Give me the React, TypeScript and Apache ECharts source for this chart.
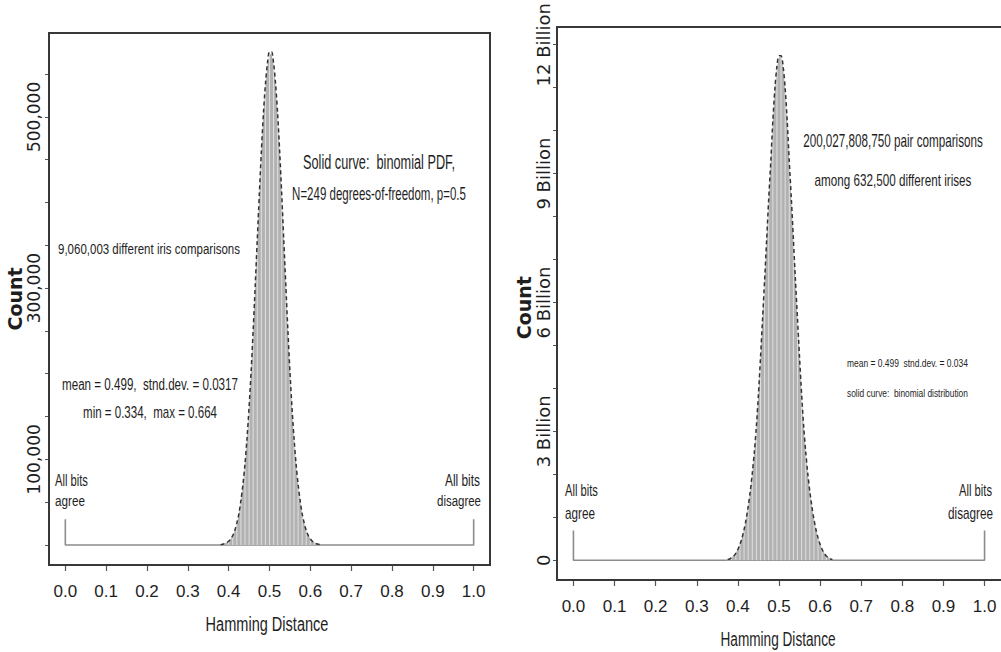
import React, { useEffect, useRef } from "react";
import * as echarts from "echarts";

// ---------- data ----------
const xTickValues = [0, 0.1, 0.2, 0.3, 0.4, 0.5, 0.6, 0.7, 0.8, 0.9, 1.0];

// left panel: 9,060,003 comparisons (counts)
const leftBins = [
  0.38, 0.385, 0.39, 0.395, 0.4, 0.405, 0.41, 0.415, 0.42, 0.425, 0.43, 0.435, 0.44, 0.445, 0.45, 0.455,
  0.46, 0.465, 0.47, 0.475, 0.48, 0.485, 0.49, 0.495, 0.5, 0.505, 0.51, 0.515, 0.52, 0.525, 0.53, 0.535,
  0.54, 0.545, 0.55, 0.555, 0.56, 0.565, 0.57, 0.575, 0.58, 0.585, 0.59, 0.595, 0.6, 0.605, 0.61, 0.615,
  0.62, 0.625,
];
const leftCounts = [
  500, 900, 1600, 2800, 4500, 7000, 11000, 17000, 25000, 36000, 51000, 70000, 94000, 124000, 160000, 202000,
  250000, 302000, 355000, 408000, 458000, 502000, 536000, 560000, 573000, 574000, 561000, 536000, 502000, 458000, 408000, 355000,
  302000, 250000, 202000, 160000, 124000, 94000, 70000, 51000, 36000, 25000, 17000, 11000, 7000, 4500, 2800, 1600,
  900, 500,
];
const leftPdf = [
  400, 800, 1500, 2700, 4400, 7000, 11000, 17000, 25500, 36500, 52000, 71000, 95000, 125000, 161000, 203000,
  251000, 303000, 356000, 409000, 459000, 503000, 538000, 563000, 576000, 576000, 563000, 538000, 503000, 459000, 409000, 356000,
  303000, 251000, 203000, 161000, 125000, 95000, 71000, 52000, 36500, 25500, 17000, 11000, 7000, 4400, 2700, 1500,
  800, 400,
];
const leftYTicks = [0, 50000, 100000, 150000, 200000, 250000, 300000, 350000, 400000, 450000, 500000, 550000];
const leftYLabels = [100000, 300000, 500000];
const leftBracket = [[0, 30000], [0, 0], [1, 0], [1, 30000]];

// right panel: 200,027,808,750 comparisons (billions)
const rightBins = [
  0.375, 0.38, 0.385, 0.39, 0.395, 0.4, 0.405, 0.41, 0.415, 0.42, 0.425, 0.43, 0.435, 0.44, 0.445, 0.45,
  0.455, 0.46, 0.465, 0.47, 0.475, 0.48, 0.485, 0.49, 0.495, 0.5, 0.505, 0.51, 0.515, 0.52, 0.525, 0.53,
  0.535, 0.54, 0.545, 0.55, 0.555, 0.56, 0.565, 0.57, 0.575, 0.58, 0.585, 0.59, 0.595, 0.6, 0.605, 0.61,
  0.615, 0.62, 0.625, 0.63,
];
const rightCountsB = [
  0.02, 0.04, 0.07, 0.11, 0.17, 0.26, 0.38, 0.53, 0.72, 0.95, 1.25, 1.6, 2.0, 2.5, 3.1, 3.85,
  4.7, 5.6, 6.5, 7.45, 8.4, 9.25, 10.2, 10.95, 11.45, 11.7, 11.72, 11.45, 10.95, 10.2, 9.25, 8.4,
  7.45, 6.5, 5.6, 4.7, 3.85, 3.1, 2.5, 2.0, 1.6, 1.25, 0.95, 0.72, 0.53, 0.38, 0.26, 0.17,
  0.11, 0.07, 0.04, 0.02,
];
const rightPdfB = [
  0.02, 0.03, 0.06, 0.1, 0.16, 0.25, 0.37, 0.52, 0.71, 0.95, 1.25, 1.6, 2.02, 2.52, 3.12, 3.87,
  4.72, 5.62, 6.52, 7.47, 8.42, 9.28, 10.22, 10.98, 11.5, 11.74, 11.74, 11.5, 10.98, 10.22, 9.28, 8.42,
  7.47, 6.52, 5.62, 4.72, 3.87, 3.12, 2.52, 2.02, 1.6, 1.25, 0.95, 0.71, 0.52, 0.37, 0.25, 0.16,
  0.1, 0.06, 0.03, 0.02,
];
const rightYTicks = [0, 1, 2, 3, 4, 5, 6, 7, 8, 9, 10, 11, 12];
const rightYLabels = [0, 3, 6, 9, 12];
const rightBracket = [[0, 0.69], [0, 0], [1, 0], [1, 0.69]];

// ---------- layout & styling ----------
const GRID_L = { left: 49, top: 33, width: 441, height: 532 };
const GRID_R = { left: 557, top: 27, width: 447, height: 553 };
const TEXT = "#1e1e1e";
const FONT = "Liberation Sans";
const FILL = "#b2b2b2";
const STRIPE = "#e0e0e0";
const FRAME = "#383838";

function fitScale(text: string, size: number, width: number) {
  const ctx = document.createElement("canvas").getContext("2d");
  if (!ctx) return 1;
  ctx.font = `${size}px "Liberation Sans", sans-serif`;
  const w = ctx.measureText(text).width;
  return w > 0 ? width / w : 1;
}

function note(text: string, x: number, y: number, size: number, width: number, align = "center") {
  return {
    type: "text",
    x,
    y,
    scaleX: fitScale(text, size, width),
    silent: true,
    z: 20,
    style: { text, fontSize: size, fontFamily: FONT, fill: TEXT, align, verticalAlign: "middle" },
  };
}

function frame(g: { left: number; top: number; width: number; height: number }) {
  return {
    type: "rect",
    silent: true,
    z: 15,
    shape: { x: g.left, y: g.top, width: g.width, height: g.height },
    style: { fill: "none", stroke: FRAME, lineWidth: 2 },
  };
}

function pairs(xs: number[], ys: number[]) {
  return xs.map((x, i) => [x, ys[i]]);
}

function xAxisFor(grid: number) {
  return {
    gridIndex: grid,
    type: "value",
    min: -0.04,
    max: 1.04,
    axisLine: { show: false, onZero: false },
    splitLine: { show: false },
    axisTick: { show: true, customValues: xTickValues, length: 6, lineStyle: { color: "#555", width: 1.2 } },
    axisLabel: {
      customValues: xTickValues,
      formatter: (v: number) => v.toFixed(1),
      fontFamily: FONT,
      fontSize: 17,
      color: TEXT,
      margin: 18,
    },
  };
}

function histSeries(grid: number, bins: number[], counts: number[], pdf: number[], bracket: number[][]) {
  const stripes = bins.map((b, i) => [b, counts[i]]).filter((_, i) => i % 2 === 0);
  return [
    {
      type: "line",
      xAxisIndex: grid,
      yAxisIndex: grid,
      data: bracket,
      symbol: "none",
      lineStyle: { color: "#8c8c8c", width: 1.6 },
      z: 1,
    },
    {
      type: "line",
      xAxisIndex: grid,
      yAxisIndex: grid,
      data: pairs(bins, counts),
      symbol: "none",
      lineStyle: { width: 0, opacity: 0 },
      areaStyle: { color: FILL, opacity: 1 },
      z: 2,
    },
    {
      type: "bar",
      xAxisIndex: grid,
      yAxisIndex: grid,
      data: stripes,
      barWidth: 1,
      itemStyle: { color: STRIPE },
      z: 3,
    },
    {
      type: "line",
      xAxisIndex: grid,
      yAxisIndex: grid,
      data: pairs(bins, pdf),
      symbol: "none",
      smooth: 0.3,
      lineStyle: { color: "#333333", width: 1.5, type: [4, 3] },
      z: 4,
    },
  ];
}

function yAxisBase(grid: number) {
  return {
    gridIndex: grid,
    type: "value",
    axisLine: { show: false, onZero: false },
    splitLine: { show: false },
    nameLocation: "middle",
    nameRotate: 90,
    nameTextStyle: { fontFamily: "DejaVu Sans", fontSize: 19, fontWeight: "bold", color: TEXT },
  };
}

export default function App() {
  const ref = useRef<HTMLDivElement>(null);
  useEffect(() => {
    if (!ref.current) return;
    const chart = echarts.init(ref.current, undefined, { renderer: "svg" });
    const option = {
      animation: false,
      backgroundColor: "#ffffff",
      grid: [
        { ...GRID_L, show: false },
        { ...GRID_R, show: false },
      ],
      xAxis: [xAxisFor(0), xAxisFor(1)],
      yAxis: [
        {
          ...yAxisBase(0),
          min: -23400,
          max: 598000,
          axisTick: { show: true, customValues: leftYTicks, length: 4, lineStyle: { color: "#555" } },
          axisLabel: {
            customValues: leftYLabels,
            rotate: 90,
            formatter: (v: number) => v.toLocaleString("en-US"),
            fontFamily: "DejaVu Sans",
            fontSize: 17,
            color: TEXT,
            margin: 7,
          },
          name: "Count",
          nameGap: 21,
        },
        {
          ...yAxisBase(1),
          min: -0.46,
          max: 12.22,
          axisTick: { show: true, customValues: rightYTicks, length: 4, lineStyle: { color: "#555" } },
          axisLabel: {
            customValues: rightYLabels,
            rotate: 90,
            formatter: (v: number) => (v === 0 ? "0" : `${v} Billion`),
            fontFamily: "DejaVu Sans",
            fontSize: 18,
            color: TEXT,
            margin: 5,
          },
          name: "Count",
          nameGap: 19,
        },
      ],
      series: [
        ...histSeries(0, leftBins, leftCounts, leftPdf, leftBracket),
        ...histSeries(1, rightBins, rightCountsB, rightPdfB, rightBracket),
      ],
      graphic: [
        frame(GRID_L),
        frame(GRID_R),
        note("Solid curve:  binomial PDF,", 379, 162, 20, 152),
        note("N=249 degrees-of-freedom, p=0.5", 379, 193, 18, 174),
        note("9,060,003 different iris comparisons", 149, 249, 15, 182),
        note("mean = 0.499,  stnd.dev. = 0.0317", 150, 384, 16, 176),
        note("min = 0.334,  max = 0.664", 150, 412, 16, 134),
        note("All bits", 55, 480, 16, 33, "left"),
        note("agree", 55, 501, 15, 30, "left"),
        note("All bits", 480, 480, 16, 35, "right"),
        note("disagree", 481, 501, 15, 44, "right"),
        note("Hamming Distance", 267, 624, 21, 123),
        note("200,027,808,750 pair comparisons", 893, 140, 18, 180),
        note("among 632,500 different irises", 893, 180, 17, 157),
        note("mean = 0.499  stnd.dev. = 0.034", 847, 363, 11, 121, "left"),
        note("solid curve:  binomial distribution", 847, 393, 11, 121, "left"),
        note("All bits", 565, 490, 16, 33, "left"),
        note("agree", 565, 513, 16, 30, "left"),
        note("All bits", 992, 490, 16, 33, "right"),
        note("disagree", 993, 513, 16, 45, "right"),
        note("Hamming Distance", 778, 640, 20, 115),
      ],
    };
    chart.setOption(option as any);
    return () => chart.dispose();
  }, []);
  return (
    <div
      ref={ref}
      style={{ position: "fixed", left: 0, top: 0, width: 1001, height: 652, background: "#fff" }}
    />
  );
}
